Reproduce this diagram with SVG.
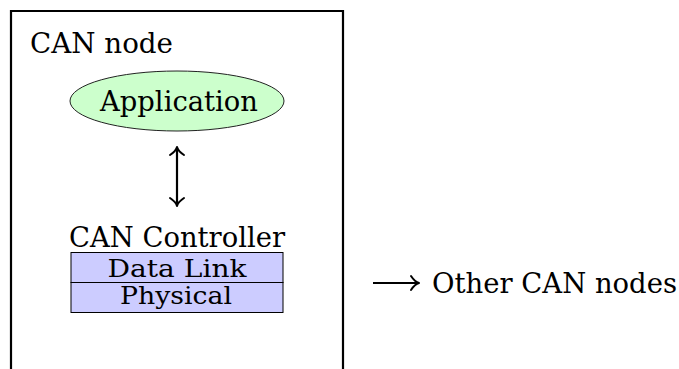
<svg xmlns="http://www.w3.org/2000/svg" width="679" height="369" viewBox="0 0 679 369">
<style>
text{font-family:"DejaVu Serif","Liberation Serif",serif;fill:#000;font-size:27px}
.c{text-anchor:middle}
.s{font-size:25px}
.line{stroke:#000;stroke-width:2.2;fill:none}
.head{stroke:#000;stroke-width:2;fill:none;stroke-linecap:round;stroke-linejoin:round}
</style>
<rect width="679" height="369" fill="#fff"/>
<g id="can-node">
<path class="line" d="M11,372 V11 H343 V372"/>
<text x="30" y="53" textLength="143" lengthAdjust="spacingAndGlyphs">CAN node</text>
</g>
<g id="application">
<ellipse cx="177" cy="101" rx="107" ry="30" fill="#ccffcc" stroke="#222" stroke-width="1"/>
<text class="c" x="179" y="111" textLength="158" lengthAdjust="spacingAndGlyphs">Application</text>
</g>
<g id="can-controller">
<text class="c" x="177" y="247" textLength="216" lengthAdjust="spacingAndGlyphs">CAN Controller</text>
<rect x="71" y="252.5" width="212" height="30" fill="#ccccff" stroke="#000" stroke-width="1"/>
<text class="c s" x="177" y="277" textLength="139" lengthAdjust="spacingAndGlyphs">Data Link</text>
<rect x="71" y="282.5" width="212" height="30" fill="#ccccff" stroke="#000" stroke-width="1"/>
<text class="c s" x="176" y="304" textLength="112" lengthAdjust="spacingAndGlyphs">Physical</text>
</g>
<g id="other-nodes">
<text x="432" y="293" textLength="245" lengthAdjust="spacingAndGlyphs">Other CAN nodes</text>
</g>
<g id="connectors">
<line class="line" x1="177" y1="148" x2="177" y2="205"/>
<path class="head" d="M170,155 Q176,151 177,147 Q178,151 184,155"/>
<path class="head" d="M170,198 Q176,202 177,206 Q178,202 184,198"/>
<line class="line" x1="373" y1="283" x2="418" y2="283"/>
<path class="head" d="M411,276 Q415,282 419,283 Q415,284 411,290"/>
</g>
</svg>
